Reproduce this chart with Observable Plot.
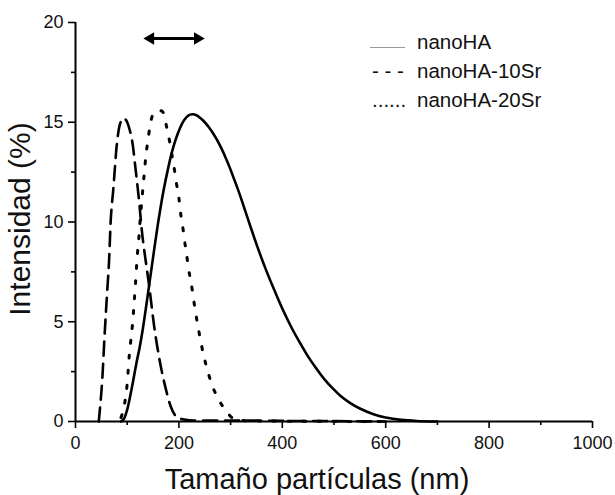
<!DOCTYPE html>
<html><head><meta charset="utf-8">
<script src="https://cdn.jsdelivr.net/npm/d3@7"></script>
<script src="https://cdn.jsdelivr.net/npm/@observablehq/plot@0.6"></script>
<style>
body{margin:0;background:#fff;}
#wrap{position:relative;width:615px;height:495px;font-family:"Liberation Sans",Arial,sans-serif;}
.leg{position:absolute;left:0;top:0;font-size:20.5px;line-height:24px;color:#111;white-space:nowrap;}
.swatch{position:absolute;height:0;border-top:1.2px solid #9a9a9a;}
</style></head><body><div id="wrap"></div>
<script>
const seriesNames = ["nanoHA", "nanoHA-10Sr", "nanoHA-20Sr"];
const legendSymbols = ["", "- - -", "......"];

// nanoHA (solid)
const nanoHA_x = [88, 94, 100, 106, 112, 118, 124, 130, 136, 142, 148, 154, 160, 166, 172, 178, 186, 194, 202, 210, 218, 226, 234, 242, 250, 258, 266, 274, 282, 290, 298, 306, 314, 322, 338, 354, 370, 386, 402, 418, 434, 450, 466, 482, 498, 514, 530, 550, 575, 600, 630, 660, 700];
const nanoHA_y = [0, 0.15, 0.6, 1.3, 2.1, 2.95, 3.7, 4.6, 5.65, 6.75, 7.85, 8.95, 10.0, 10.95, 11.8, 12.55, 13.45, 14.15, 14.7, 15.1, 15.33, 15.4, 15.35, 15.2, 15.0, 14.75, 14.45, 14.1, 13.7, 13.25, 12.75, 12.2, 11.65, 11.05, 9.8, 8.6, 7.5, 6.5, 5.55, 4.7, 3.95, 3.25, 2.65, 2.1, 1.65, 1.25, 0.95, 0.65, 0.38, 0.2, 0.08, 0.025, 0];

// nanoHA-10Sr (dashed)
const sr10_x = [45, 47, 52, 56, 61, 65, 68, 73, 80, 86, 93, 100, 105, 110, 116, 123, 129, 135, 142, 152, 164, 175, 185, 195, 210, 230, 300, 400, 500, 600];
const sr10_y = [0, 0.55, 2.2, 4.2, 6.4, 8.1, 10.0, 11.6, 13.9, 14.9, 15.2, 15.0, 14.6, 14.0, 12.7, 11.05, 9.4, 8.2, 6.9, 4.8, 2.9, 1.6, 0.7, 0.25, 0.1, 0.05, 0.05, 0.03, 0.02, 0];

// nanoHA-20Sr (dotted)
const sr20_x = [88, 93.5, 100, 104, 110, 116, 119.5, 122.5, 126, 128.5, 131, 133.5, 136, 140, 144, 150, 160, 168, 176, 182, 187, 191.5, 195.5, 200, 203, 207.5, 211, 215, 219, 224, 228, 232, 237, 242, 248, 255, 263, 275, 293, 305, 320, 400, 600];
const sr20_y = [0.2, 0.7, 1.9, 3.3, 4.8, 6.9, 8.3, 9.2, 10.4, 11.1, 11.9, 12.55, 13.3, 14.05, 14.8, 15.4, 15.6, 15.55, 14.8, 14.05, 13.3, 12.6, 11.9, 11.2, 10.5, 9.75, 9.05, 8.35, 7.6, 6.9, 6.2, 5.5, 4.75, 4.05, 3.3, 2.6, 1.9, 1.2, 0.47, 0.15, 0.05, 0.02, 0];

const xMajor = [0, 200, 400, 600, 800, 1000];
const xMinor = [100, 300, 500, 700, 900];
const yMajor = [0, 5, 10, 15, 20];
const yMinor = [2.5, 7.5, 12.5, 17.5];
const xLabel = "Tamaño partículas (nm)";
const yLabel = "Intensidad (%)";
const arrowX = [133.5, 247.7];
const arrowY = 19.2;

const toRows = (xs, ys) => xs.map((x, i) => ({x, y: ys[i]}));
const dHA = toRows(nanoHA_x, nanoHA_y);
const d10 = toRows(sr10_x, sr10_y);
const d20 = toRows(sr20_x, sr20_y);

const font = '"Liberation Sans", Arial, sans-serif';
const chart = Plot.plot({
  width: 615, height: 495,
  marginLeft: 75, marginRight: 23, marginTop: 22, marginBottom: 74,
  x: {domain: [0, 1000]},
  y: {domain: [0, 20]},
  style: {fontFamily: font, fontSize: "18px", color: "#000", background: "white"},
  marks: [
    Plot.axisX(xMajor, {tickSize: 7, tickPadding: 8, stroke: "#000", strokeWidth: 1.6, label: null, fontSize: 18, tickFormat: d => String(d), fill: "#111"}),
    Plot.axisX(xMinor, {tickSize: 4, tickFormat: () => "", stroke: "#000", strokeWidth: 1.6, label: null}),
    Plot.axisY(yMajor, {tickSize: 7, tickPadding: 5, stroke: "#000", strokeWidth: 1.6, label: null, fontSize: 18, tickFormat: d => String(d), fill: "#111"}),
    Plot.axisY(yMinor, {tickSize: 4, tickFormat: () => "", stroke: "#000", strokeWidth: 1.6, label: null}),
    Plot.ruleY([0], {x1: 0, x2: 1000, strokeWidth: 2, stroke: "#000"}),
    Plot.ruleX([0], {y1: 0, y2: 20, strokeWidth: 2, stroke: "#000"}),
    Plot.line(dHA, {x: "x", y: "y", stroke: "#000", strokeWidth: 2.6, curve: "catmull-rom"}),
    Plot.line(d10, {x: "x", y: "y", stroke: "#000", strokeWidth: 2.6, strokeDasharray: "14,8", curve: "monotone-x"}),
    Plot.line(d20, {x: "x", y: "y", stroke: "#000", strokeWidth: 3, strokeDasharray: "3,12", curve: "monotone-x"}),
    Plot.ruleY([arrowY], {x1: arrowX[0] + 4, x2: arrowX[1] - 4, strokeWidth: 3, stroke: "#000"}),
    Plot.dot([arrowX[0]], {x: d => d, y: () => arrowY, symbol: "triangle", r: 4.6, fill: "#000", stroke: null, rotate: -90, dx: 6}),
    Plot.dot([arrowX[1]], {x: d => d, y: () => arrowY, symbol: "triangle", r: 4.6, fill: "#000", stroke: null, rotate: 90, dx: -6}),
    Plot.text([xLabel], {text: d => d, frameAnchor: "bottom", lineAnchor: "middle", textAnchor: "middle", dy: 58, dx: -17, fontSize: 29, fill: "#111"}),
    Plot.text([yLabel], {text: d => d, frameAnchor: "left", textAnchor: "middle", lineAnchor: "middle", rotate: -90, dx: -55, dy: -3, fontSize: 30, fill: "#111"})
  ]
});

const wrap = document.getElementById("wrap");
wrap.appendChild(chart);

// legend
const legendTop = [42, 71.3, 100];
seriesNames.forEach((name, i) => {
  const lab = document.createElement("div");
  lab.className = "leg";
  lab.style.left = "417px";
  lab.style.top = (legendTop[i] - 12) + "px";
  lab.textContent = name;
  wrap.appendChild(lab);
  if (i === 0) {
    const sw = document.createElement("div");
    sw.className = "swatch";
    sw.style.left = "370px";
    sw.style.width = "35px";
    sw.style.top = "46.5px";
    wrap.appendChild(sw);
  } else {
    const s = document.createElement("div");
    s.className = "leg";
    s.style.left = "372px";
    s.style.top = (legendTop[i] - 12) + "px";
    s.textContent = legendSymbols[i];
    wrap.appendChild(s);
  }
});
</script></body></html>
